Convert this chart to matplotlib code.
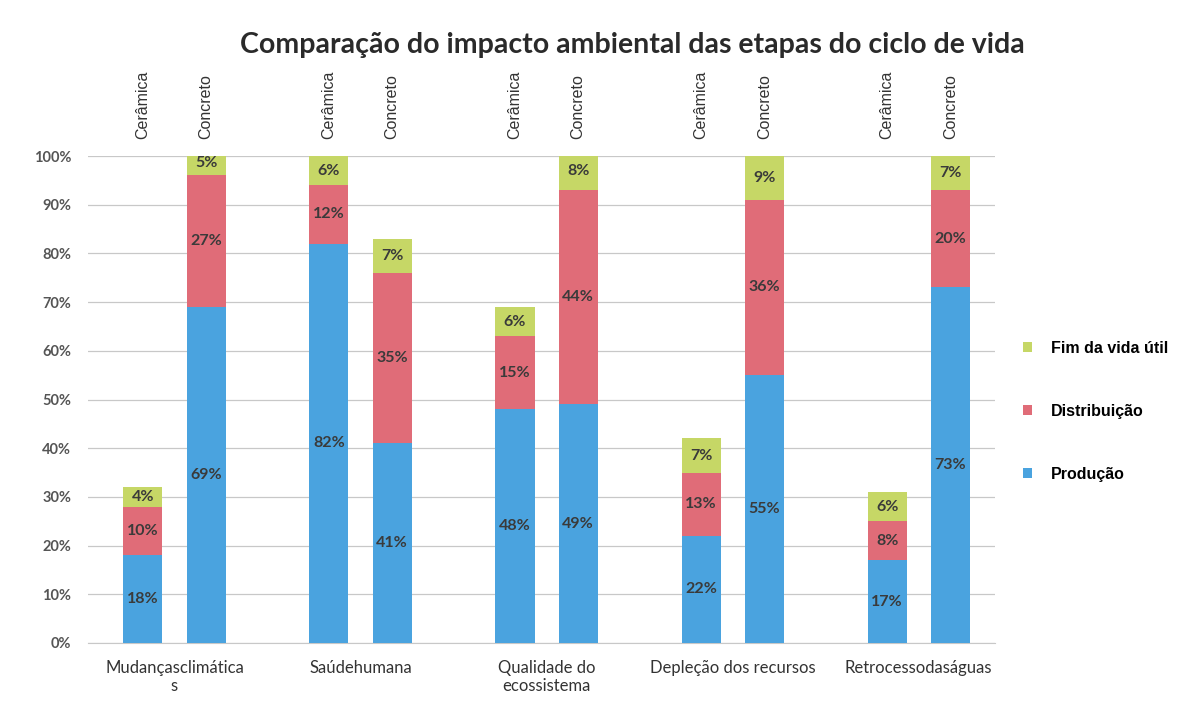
import numpy as np
import matplotlib
matplotlib.use("Agg")
import matplotlib.pyplot as plt
from matplotlib.patches import Patch

categories = ["Mudançasclimática\ns", "Saúdehumana", "Qualidade do\necossistema",
              "Depleção dos recursos", "Retrocessodaságuas"]
materials = ["Cerâmica", "Concreto"]

# Percent values per stage: [Cerâmica, Concreto] for each impact category
producao = [[18, 69], [82, 41], [48, 49], [22, 55], [17, 73]]
distribuicao = [[10, 27], [12, 35], [15, 44], [13, 36], [8, 20]]
fim_vida = [[4, 5], [6, 7], [6, 8], [7, 9], [6, 7]]

stage_names = ["Produção", "Distribuição", "Fim da vida útil"]
stage_colors = ["#4aa3df", "#e06c78", "#c6d766"]
ytick_labels = ["0%", "10%", "20%", "30%", "40%", "50%", "60%", "70%", "80%", "90%", "100%"]

fig = plt.figure(figsize=(11.94, 7.09), dpi=100)
ax = fig.add_axes([88 / 1194, 66 / 709, (995 - 88) / 1194, 487 / 709])

offsets = [-0.17, 0.17]
width = 0.21
groups = np.arange(len(categories))
stages = [producao, distribuicao, fim_vida]

for mi, off in enumerate(offsets):
    bottom = np.zeros(len(categories))
    for si, stage in enumerate(stages):
        vals = np.array([row[mi] for row in stage]) / 100.0
        ax.bar(groups + off, vals, width, bottom=bottom, color=stage_colors[si],
               edgecolor="none", zorder=3)
        for g, (v, b) in enumerate(zip(vals, bottom)):
            ax.text(g + off, b + v / 2, f"{int(round(v * 100))}%", ha="center",
                    va="center", fontsize=11.5, fontweight="bold", color="#3a3a3a",
                    family="Lato", zorder=4)
        bottom = bottom + vals
    for g in groups:
        ax.text(g + off, 1.035, materials[mi], rotation=90, ha="center", va="bottom",
                fontsize=11.5, color="#333333", family="Liberation Sans",
                transform=ax.get_xaxis_transform())

ax.set_xlim(-0.465, 4.41)
ax.set_ylim(0, 1.0)
ax.set_yticks(np.linspace(0, 1, 11))
ax.set_yticklabels(ytick_labels, fontsize=10.5, color="#555555", fontweight="bold",
                   family="Lato")
ax.set_xticks(groups)
ax.set_xticklabels(categories, fontsize=12, color="#333333", family="Lato")
ax.tick_params(axis="both", length=0)
ax.tick_params(axis="x", pad=12)
ax.tick_params(axis="y", pad=12)
ax.grid(axis="y", color="#c8c8c8", linewidth=0.9, zorder=0)
for s in ["top", "right", "left"]:
    ax.spines[s].set_visible(False)
ax.spines["bottom"].set_color("#c8c8c8")

fig.text(0.53, 1 - 45 / 709, "Comparação do impacto ambiental das etapas do ciclo de vida",
         ha="center", va="center", fontsize=20.5, fontweight="bold", color="#2a2a2a",
         family="Lato")

handles = [Patch(facecolor=stage_colors[i], edgecolor="none") for i in (2, 1, 0)]
labels = [stage_names[i] for i in (2, 1, 0)]
fig.legend(handles, labels, loc="center left", bbox_to_anchor=(0.845, 0.42),
           frameon=False, handlelength=0.55, handleheight=0.55,
           labelspacing=3.0, handletextpad=1.2,
           prop={"family": "Liberation Sans", "size": 11.5, "weight": "bold"})

fig.savefig("out.png", dpi=100, facecolor="white")
